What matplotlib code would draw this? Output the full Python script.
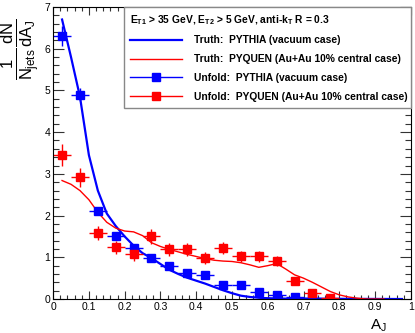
import numpy as np
import matplotlib
matplotlib.use("Agg")
import matplotlib.pyplot as plt
from matplotlib.ticker import MultipleLocator
from matplotlib.lines import Line2D

plt.rcParams['font.family'] = ['Liberation Sans', 'DejaVu Sans']
plt.rcParams['mathtext.fontset'] = 'custom'
plt.rcParams['mathtext.rm'] = 'Liberation Sans'
plt.rcParams['mathtext.it'] = 'Liberation Sans'

### unfolded points (bin centres, width 0.05)
aj_pythia = [0.025, 0.075, 0.125, 0.175, 0.225, 0.275, 0.325, 0.375, 0.425,
             0.475, 0.525, 0.575, 0.625, 0.675, 0.725]
unf_pythia = [6.3, 4.9, 2.1, 1.5, 1.22, 0.98, 0.78, 0.62, 0.58,
              0.34, 0.34, 0.17, 0.10, 0.04, 0.02]
err_pythia = [0.24, 0.16, 0.09, 0.08, 0.07, 0.06, 0.06, 0.05, 0.05,
              0.04, 0.04, 0.03, 0.03, 0.02, 0.02]

aj_pyquen = [0.025, 0.075, 0.125, 0.175, 0.225, 0.275, 0.325, 0.375, 0.425,
             0.475, 0.525, 0.575, 0.625, 0.675, 0.725, 0.775]
unf_pyquen = [3.45, 2.92, 1.59, 1.24, 1.07, 1.51, 1.19, 1.19, 0.98,
              1.23, 1.02, 1.02, 0.91, 0.44, 0.14, 0.03]
err_pyquen = [0.26, 0.23, 0.17, 0.16, 0.17, 0.18, 0.16, 0.15, 0.14,
              0.14, 0.13, 0.13, 0.12, 0.09, 0.08, 0.03]

### truth curves
aj_truth_py = [0.025, 0.05, 0.075, 0.1, 0.125, 0.15, 0.175, 0.2, 0.225, 0.25,
               0.275, 0.3, 0.325, 0.35, 0.375, 0.4, 0.425, 0.45, 0.475, 0.5,
               0.525, 0.55, 0.575, 0.6, 0.65, 0.7, 0.8, 0.975]
truth_py = [6.7, 5.8, 4.85, 3.45, 2.6, 2.05, 1.75, 1.5, 1.28, 1.1,
            0.98, 0.84, 0.70, 0.60, 0.51, 0.44, 0.37, 0.29, 0.21, 0.14,
            0.08, 0.05, 0.03, 0.02, 0.01, 0.01, 0.005, 0.0]

aj_truth_pq = [0.025, 0.05, 0.075, 0.1, 0.125, 0.15, 0.175, 0.2, 0.225, 0.25,
               0.275, 0.3, 0.325, 0.35, 0.375, 0.4, 0.425, 0.45, 0.475, 0.5,
               0.525, 0.55, 0.575, 0.6, 0.625, 0.65, 0.675, 0.7, 0.725, 0.75,
               0.775, 0.8, 0.825, 0.85, 0.875, 0.925]
truth_pq = [2.84, 2.75, 2.6, 2.38, 2.08, 1.84, 1.7, 1.63, 1.61, 1.52,
            1.35, 1.26, 1.19, 1.13, 1.07, 1.02, 0.97, 0.93, 0.91, 0.9,
            0.87, 0.82, 0.76, 0.8, 0.85, 0.72, 0.58, 0.5, 0.4, 0.29,
            0.18, 0.1, 0.05, 0.02, 0.0, 0.0]

labels = ["Truth:  PYTHIA (vacuum case)",
          "Truth:  PYQUEN (Au+Au 10% central case)",
          "Unfold:  PYTHIA (vacuum case)",
          "Unfold:  PYQUEN (Au+Au 10% central case)"]

fig = plt.figure(figsize=(4.15, 3.33), dpi=100)
ax = fig.add_axes([0.128, 0.102, 0.862, 0.877])

blue = "#0000ff"
red = "#ff0000"

ax.plot(aj_truth_py, truth_py, color=blue, lw=1.6)
ax.plot(aj_truth_pq, truth_pq, color=red, lw=1.0)
ax.errorbar(aj_pythia, unf_pythia, xerr=0.025, yerr=err_pythia, fmt="s",
            color=blue, ms=5.5, elinewidth=1.0, capsize=0)
ax.errorbar(aj_pyquen, unf_pyquen, xerr=0.025, yerr=err_pyquen, fmt="s",
            color=red, ms=5.5, elinewidth=1.0, capsize=0)

ax.set_xlim(0, 1)
ax.set_ylim(0, 7)
ax.xaxis.set_major_locator(MultipleLocator(0.1))
ax.xaxis.set_minor_locator(MultipleLocator(0.02))
ax.yaxis.set_major_locator(MultipleLocator(1))
ax.yaxis.set_minor_locator(MultipleLocator(0.2))
ax.set_xticks([0, 0.1, 0.2, 0.3, 0.4, 0.5, 0.6, 0.7, 0.8, 0.9, 1])
ax.set_xticklabels(["0", "0.1", "0.2", "0.3", "0.4", "0.5", "0.6", "0.7",
                    "0.8", "0.9", "1"])
ax.tick_params(which="both", direction="in", top=True, right=True,
               labelsize=7.5, width=0.8, colors="#333333", labelcolor="black")
ax.tick_params(axis="x", which="major", length=6, pad=2)
ax.tick_params(axis="x", which="minor", length=3)
ax.tick_params(axis="y", which="major", length=8, pad=2)
ax.tick_params(axis="y", which="minor", length=4)
for s in ax.spines.values():
    s.set_linewidth(0.8)

ax.text(0.908, -0.09, r"$\mathregular{A_J}$", transform=ax.transAxes,
        ha="center", va="center", fontsize=11)
ax.text(-0.092, 0.855, r"$\frac{1}{N_{jets}}\frac{dN}{dA_{J}}$",
        transform=ax.transAxes, rotation=90, ha="center", va="center",
        fontsize=17)

handles = [Line2D([], [], color=blue, lw=1.6),
           Line2D([], [], color=red, lw=1.0),
           Line2D([], [], color=blue, lw=1.0, marker="s", ms=5.5),
           Line2D([], [], color=red, lw=1.0, marker="s", ms=5.5)]
leg = ax.legend(handles, labels, loc="upper left",
                bbox_to_anchor=(0.198, 0.0, 0.802, 1.0),
                mode="expand", borderaxespad=0, fancybox=False,
                edgecolor="#888888", framealpha=1,
                title=r"E$_{\mathregular{T1}}$ > 35 GeV, E$_{\mathregular{T2}}$ > 5 GeV, anti-k$_{\mathregular{T}}$ R = 0.3",
                alignment="left", handlelength=5.0, handletextpad=1.2,
                labelspacing=0.85, borderpad=0.6, numpoints=1,
                prop={"weight": "bold", "size": 7.4},
                title_fontproperties={"weight": "bold", "size": 7.4})
leg.get_frame().set_linewidth(1.0)

fig.savefig("out.png", dpi=100)
